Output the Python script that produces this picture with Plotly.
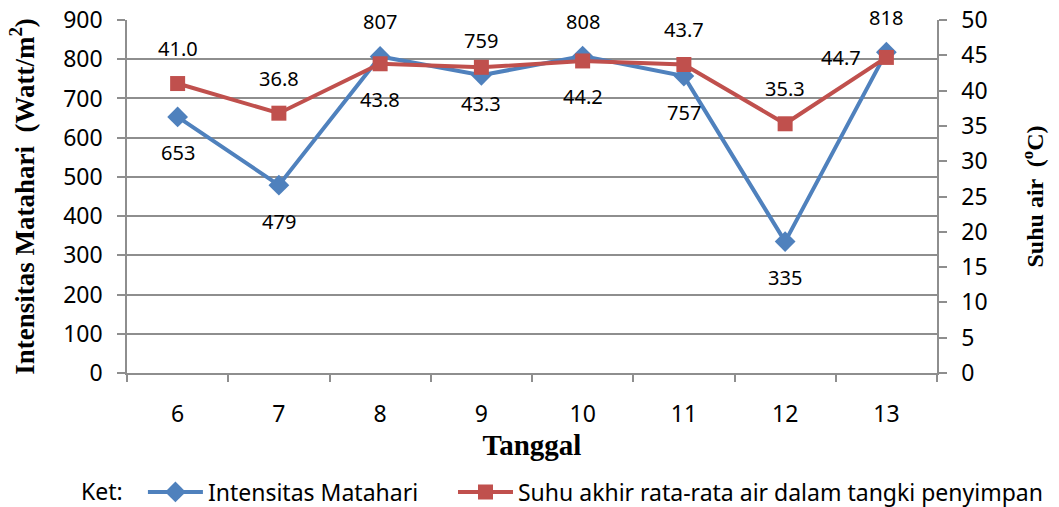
import plotly.graph_objects as go

tanggal = ["6", "7", "8", "9", "10", "11", "12", "13"]
intensitas = [653, 479, 807, 759, 808, 757, 335, 818]
suhu = [41.0, 36.8, 43.8, 43.3, 44.2, 43.7, 35.3, 44.7]

# where each value label sits relative to its point
pos_int = ["below", "below", "above", "above", "above", "below", "below", "above"]
pos_suhu = ["above", "above", "below", "below", "below", "above", "above", "left"]

BLUE = "#4F81BD"
RED = "#C0504D"
GRID = "#8E8E8E"
SANS = "Noto Sans, Open Sans, sans-serif"
SERIF = "Liberation Serif, Times New Roman, serif"
TICKFONT = dict(family=SANS, size=23, color="#000000")
LABELFONT = dict(family=SANS, size=20, color="#000000")

W_PLOT = 1059 - 127 - 122
H_PLOT = 507 - 20 - 134

# non-breaking spaces widen the gap between the two legend entries
GAP = "\u00a0" * 5

fig = go.Figure()
fig.add_trace(go.Scatter(
    x=tanggal, y=intensitas, name="Intensitas Matahari" + GAP,
    mode="lines+markers",
    line=dict(color=BLUE, width=4),
    marker=dict(symbol="diamond", size=16, color=BLUE),
    yaxis="y",
))
fig.add_trace(go.Scatter(
    x=tanggal, y=suhu, name="Suhu akhir rata-rata air dalam tangki penyimpan",
    mode="lines+markers",
    line=dict(color=RED, width=4),
    marker=dict(symbol="square", size=15, color=RED),
    yaxis="y2",
))

shift = {"above": (0, 35), "below": (0, -36), "left": (-45, 0)}
annotations = []
for i, (v, p) in enumerate(zip(intensitas, pos_int)):
    dx, dy = shift[p]
    annotations.append(dict(x=i, y=v, xref="x", yref="y", text=str(v), showarrow=False,
                            xshift=dx, yshift=dy, font=LABELFONT))
for i, (v, p) in enumerate(zip(suhu, pos_suhu)):
    dx, dy = shift[p]
    annotations.append(dict(x=i, y=v, xref="x", yref="y2", text=f"{v:.1f}", showarrow=False,
                            xshift=dx, yshift=dy, font=LABELFONT))
annotations.append(dict(x=(102 - 127) / W_PLOT, y=(373 - 491) / H_PLOT, xref="paper", yref="paper",
                        xanchor="center", yanchor="middle",
                        text="Ket:", showarrow=False, font=TICKFONT))

fig.update_layout(
    width=1059, height=507,
    margin=dict(l=127, r=122, t=20, b=134, autoexpand=False),
    paper_bgcolor="white", plot_bgcolor="white",
    showlegend=True,
    legend=dict(orientation="h", x=-0.0001, xanchor="left", xref="paper",
                y=(373 - 492) / H_PLOT, yanchor="middle", yref="paper",
                bgcolor="white", bordercolor="white", borderwidth=16,
                font=dict(family=SANS, size=23, color="#000"),
                itemwidth=55, tracegroupgap=0),
    xaxis=dict(
        type="category", range=[-0.5, 7.5],
        showline=True, linecolor=GRID, linewidth=1.5,
        ticks="outside", tickson="boundaries", ticklen=7, tickcolor=GRID, tickwidth=1.5,
        ticklabelstandoff=20,
        tickfont=TICKFONT, showgrid=False, automargin=False,
        title=dict(text="<b>Tanggal</b>", font=dict(family=SERIF, size=29, color="#000"), standoff=4),
    ),
    yaxis=dict(
        range=[0, 900], dtick=100,
        showline=True, linecolor=GRID, linewidth=1.5,
        ticks="outside", ticklen=8, tickcolor=GRID, tickwidth=1.5,
        ticklabelstandoff=10,
        showgrid=True, gridcolor=GRID, gridwidth=1.5,
        tickfont=TICKFONT, zeroline=False, automargin=False,
        title=dict(text="<b>Intensitas Matahari  (Watt/m<sup>2</sup>)</b>",
                   font=dict(family=SERIF, size=27, color="#000"), standoff=21),
    ),
    yaxis2=dict(
        range=[0, 50], dtick=5, overlaying="y", side="right",
        showline=True, linecolor=GRID, linewidth=1.5,
        ticks="outside", ticklen=8, tickcolor=GRID, tickwidth=1.5,
        ticklabelstandoff=10,
        showgrid=False, tickfont=TICKFONT, zeroline=False, automargin=False,
        title=dict(text="<b>Suhu air  (<sup>o</sup>C)</b>",
                   font=dict(family=SERIF, size=24, color="#000"), standoff=40),
    ),
    annotations=annotations,
)

fig.write_html("out.html")
